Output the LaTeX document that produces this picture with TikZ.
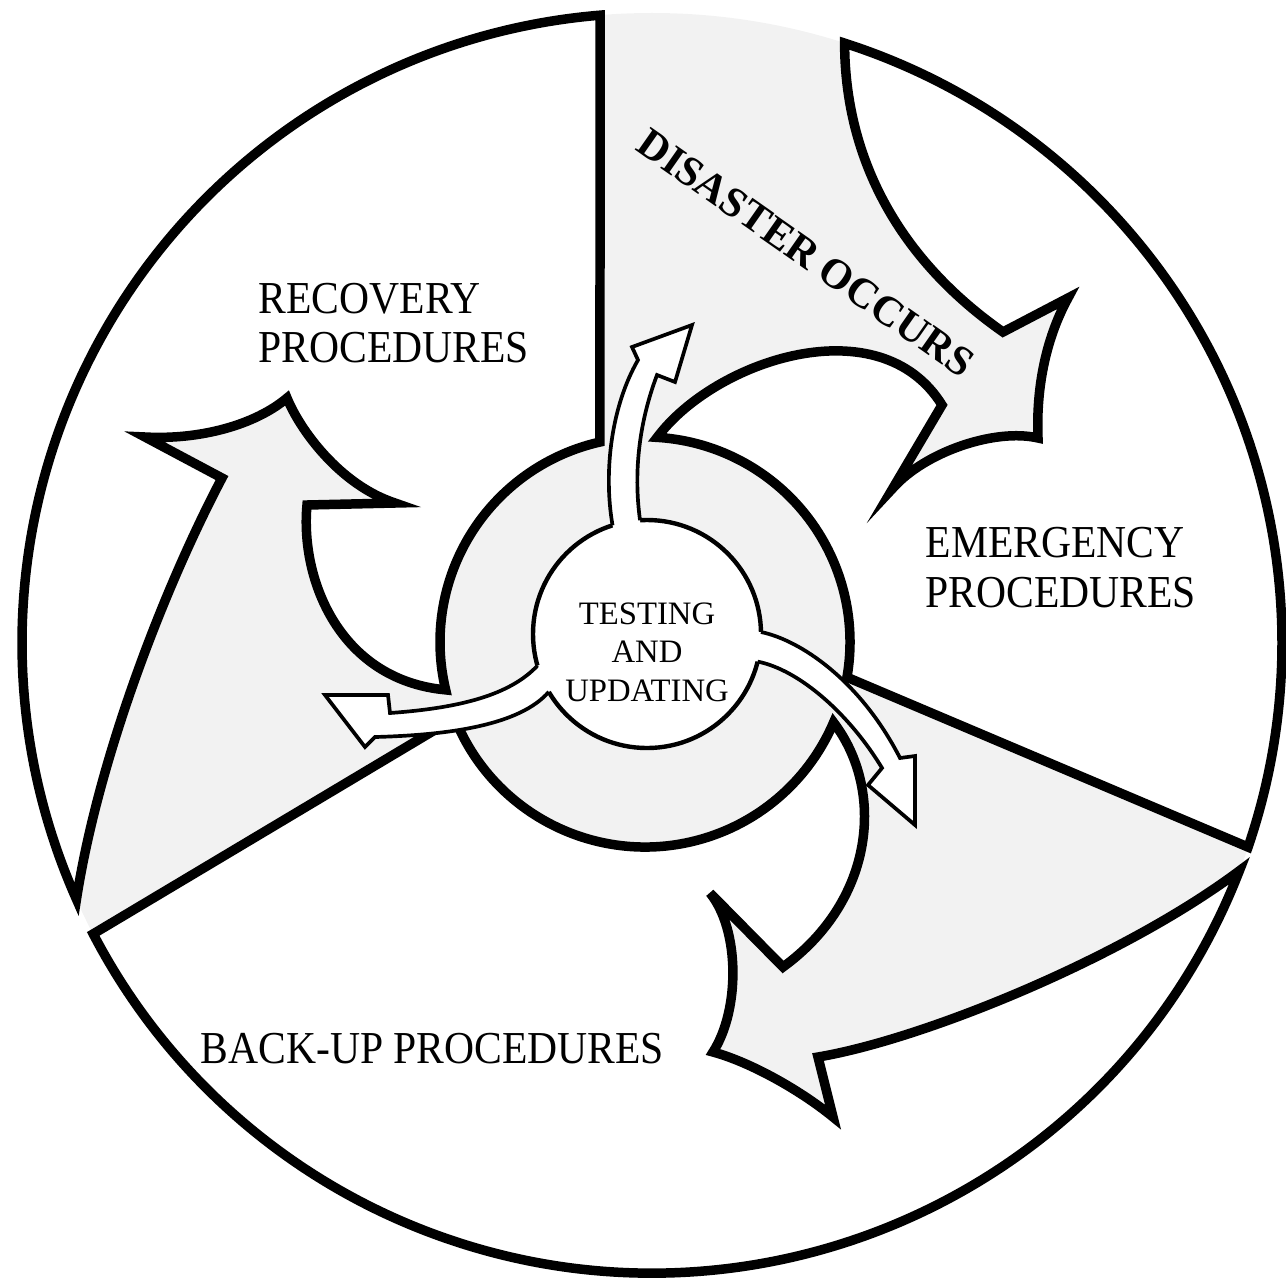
\documentclass[tikz,border=0pt]{standalone}
\usepackage{fontspec}
\setmainfont{Liberation Serif}
\usetikzlibrary{calc}
\begin{document}
\begin{tikzpicture}[x=0.01cm,y=-0.01cm,
  sector/.style={fill=white,draw=black,line width=2.7pt,line join=miter,miter limit=12},
  hub/.style={fill=white,draw=black,line width=1.25pt},
  minor/.style={draw=black,line width=1.05pt,line join=miter,miter limit=12},
  stipple/.style={fill=black!5},
  label/.style={font=\fontsize{13}{15}\selectfont,xscale=0.91,inner sep=0pt,anchor=base west}]
\useasboundingbox (0,0) rectangle (1286,1285);

% centres of the outer disc, the ring and the hub
\coordinate (O) at (652,643);
\coordinate (Q) at (645,642);
\coordinate (I) at (647,634);

% stippled background disc
\fill[stipple] (O) circle[radius=630];

% points on the outer circle
\coordinate (recTop) at ($(O)+(265.27:630)$);
\coordinate (emTop)  at ($(O)+(-72.2:630)$);
\coordinate (buTop)  at ($(O)+(152.5:630)$);
\coordinate (buEnd)  at ($(O)+(21.2:630)$);
% points on the ring
\coordinate (recR) at ($(Q)+(166.5:205)$);
\coordinate (emR)  at ($(Q)+(9.9:205)$);
\coordinate (buR)  at ($(Q)+(158.2:205)$);

% recovery sector
\path[sector] (recTop) arc[start angle=265.27,end angle=156,radius=630]
  .. controls (98,760) and (163,590) .. (222,478)
  -- (145,437)
  .. controls (200,440) and (255,425) .. (287,398)
  .. controls (300,430) and (340,485) .. (395,503)
  -- (307,505)
  .. controls (300,580) and (340,680) .. (recR)
  arc[start angle=166.5,end angle=257.3,radius=205]
  -- cycle;

% emergency sector
\path[sector] (emTop) arc[start angle=-72.2,end angle=18.9,radius=630]
  -- (emR) arc[start angle=9.9,end angle=-86.6,radius=205]
  .. controls (715,360) and (880,305) .. (942,405)
  -- (893,488)
  .. controls (925,452) and (995,428) .. (1038,438)
  .. controls (1036,390) and (1045,340) .. (1068,298)
  -- (1003,332)
  .. controls (900,260) and (845,160) .. (emTop)
  -- cycle;

% back-up sector
\path[sector] (buTop) -- (buR)
  arc[start angle=158.2,end angle=23.1,radius=205]
  .. controls (885,790) and (875,900) .. (783,967)
  -- (710,893)
  .. controls (740,930) and (740,1010) .. (713,1052)
  .. controls (750,1062) and (800,1090) .. (833,1117)
  -- (818,1057)
  .. controls (920,1040) and (1120,960) .. (buEnd)
  arc[start angle=21.2,end angle=152.5,radius=630]
  -- cycle;

% hub
\draw[hub] (I) circle[radius=114];

% small arrows leaving the hub
\coordinate (uL) at ($(I)+(252.4:114)$);
\coordinate (uR) at ($(I)+(266.5:114)$);
\coordinate (lU) at ($(I)+(163.9:114)$);
\coordinate (lL) at ($(I)+(149.5:114)$);
\coordinate (rU) at ($(I)+(-1:114)$);
\coordinate (rL) at ($(I)+(14:114)$);

\fill[white] (uL) .. controls (603,470) and (612,405) .. (638,360) -- (632,347) -- (692,325)
  -- (675,382) -- (657,375) .. controls (640,420) and (633,470) .. (uR) -- (I) -- cycle;
\draw[minor] (uL) .. controls (603,470) and (612,405) .. (638,360) -- (632,347) -- (692,325)
  -- (675,382) -- (657,375) .. controls (640,420) and (633,470) .. (uR);

\fill[white] (lU) .. controls (510,695) and (460,708) .. (390,713) -- (388,695) -- (325,695)
  -- (365,747) -- (375,737) .. controls (450,735) and (520,725) .. (lL) -- (I) -- cycle;
\draw[minor] (lU) .. controls (510,695) and (460,708) .. (390,713) -- (388,695) -- (325,695)
  -- (365,747) -- (375,737) .. controls (450,735) and (520,725) .. (lL);

\fill[white] (rU) .. controls (800,640) and (860,680) .. (900,758) -- (915,756) -- (915,825)
  -- (868,785) -- (882,768) .. controls (850,715) and (800,670) .. (rL) -- (I) -- cycle;
\draw[minor] (rU) .. controls (800,640) and (860,680) .. (900,758) -- (915,756) -- (915,825)
  -- (868,785) -- (882,768) .. controls (850,715) and (800,670) .. (rL);

% labels
\node[label] (recA) at (258,313) {RECOVERY};
\node[label] (recB) at (258,362) {PROCEDURES};
\node[label] (emA) at (925,557) {EMERGENCY};
\node[label] (emB) at (925,607) {PROCEDURES};
\node[label] (bu) at (200,1063) {BACK-UP PROCEDURES};
\node[font=\fontsize{9.3}{10.95}\selectfont,align=center,inner sep=0pt] (tu) at (647,652)
  {TESTING\\AND\\UPDATING};
\node[font=\fontsize{12}{14}\selectfont\bfseries,rotate=-35,inner sep=0pt] (dis) at (806,253)
  {DISASTER OCCURS};
\end{tikzpicture}
\end{document}
